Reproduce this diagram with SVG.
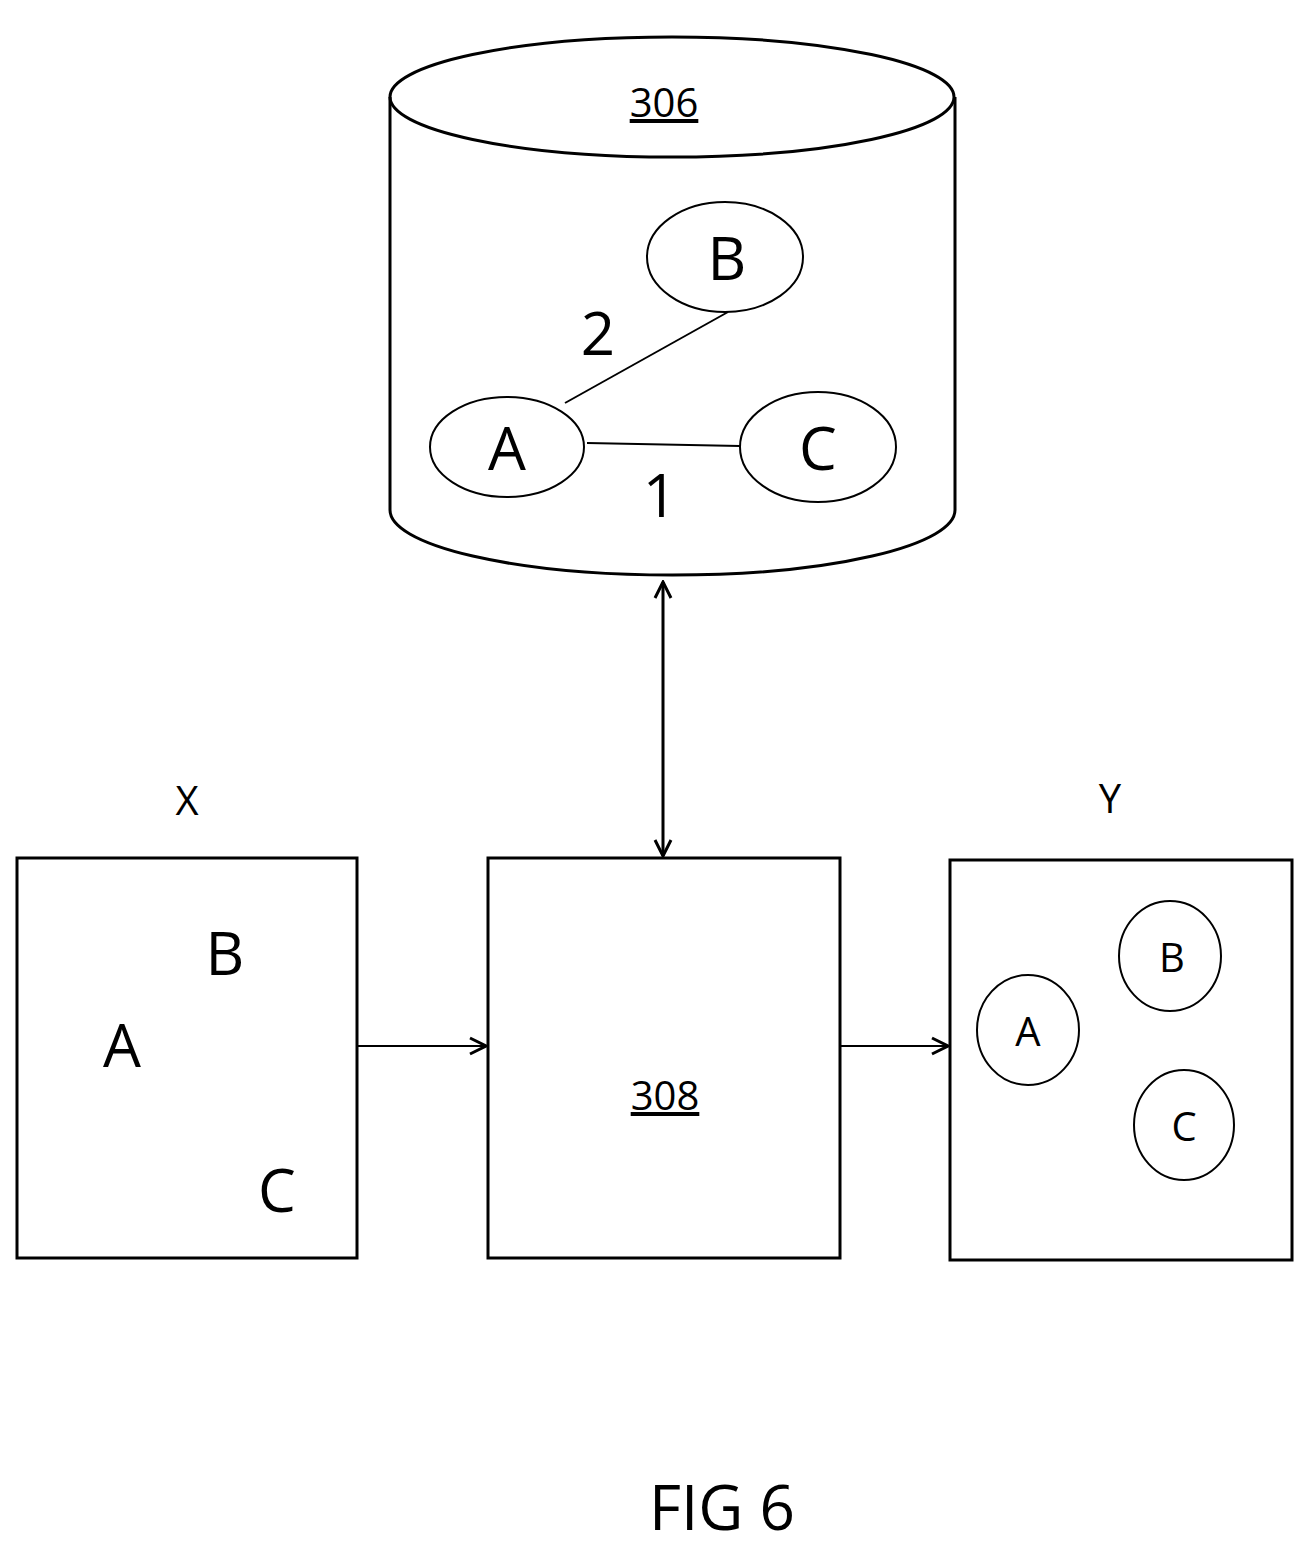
<svg xmlns="http://www.w3.org/2000/svg" width="1315" height="1545" viewBox="0 0 1315 1545">
<style>
.s{fill:none;stroke:#000;stroke-width:3}
.t{stroke:#000;stroke-width:2;fill:none}
text{font-family:"Open Sans","Liberation Sans",sans-serif;fill:#000;text-anchor:middle}
</style>
<defs>
<marker id="ah" viewBox="0 0 20 20" refX="18" refY="10" markerWidth="20" markerHeight="20" markerUnits="userSpaceOnUse" orient="auto-start-reverse">
<path d="M2,2 L18,10 L2,18" fill="none" stroke="#000" stroke-width="3"/>
</marker>
</defs>
<rect width="1315" height="1545" fill="#fff"/>
<g id="db306">
<path class="s" d="M390,97 L390,510 A282,65 0 0 0 955,510 L955,97"/>
<ellipse class="s" cx="672" cy="97" rx="282" ry="60"/>
<text x="664" y="117" font-size="40" text-decoration="underline">306</text>
</g>
<g id="connectors">
<line class="t" x1="565" y1="403" x2="728" y2="312"/>
<line class="t" x1="587" y1="443" x2="740" y2="446"/>
<line class="s" x1="663" y1="582" x2="663" y2="856" marker-start="url(#ah)" marker-end="url(#ah)"/>
<line class="t" x1="357" y1="1046" x2="486" y2="1046" marker-end="url(#ah)"/>
<line class="t" x1="840" y1="1046" x2="948" y2="1046" marker-end="url(#ah)"/>
</g>
<g id="gB"><ellipse class="t" cx="725" cy="257" rx="78" ry="55"/><text x="727" y="280" font-size="60">B</text></g>
<g id="gA"><ellipse class="t" cx="507" cy="447" rx="77" ry="50"/><text x="507" y="470" font-size="60">A</text></g>
<g id="gC"><ellipse class="t" cx="818" cy="447" rx="78" ry="55"/><text x="818" y="470" font-size="60">C</text></g>
<text x="598" y="355" font-size="60">2</text>
<text x="660" y="517" font-size="60">1</text>
<g id="X">
<text x="187" y="815" font-size="40">X</text>
<rect class="s" x="17" y="858" width="340" height="400"/>
<text x="225" y="975" font-size="60">B</text>
<text x="122" y="1067" font-size="60">A</text>
<text x="277" y="1212" font-size="60">C</text>
</g>
<g id="n308">
<rect class="s" x="488" y="858" width="352" height="400"/>
<text x="665" y="1110" font-size="40" text-decoration="underline">308</text>
</g>
<g id="Y">
<text x="1110" y="813" font-size="40">Y</text>
<rect class="s" x="950" y="860" width="342" height="400"/>
<ellipse class="t" cx="1028" cy="1030" rx="51" ry="55"/><text x="1028" y="1046" font-size="40">A</text>
<ellipse class="t" cx="1170" cy="956" rx="51" ry="55"/><text x="1172" y="972" font-size="40">B</text>
<ellipse class="t" cx="1184" cy="1125" rx="50" ry="55"/><text x="1184" y="1141" font-size="40">C</text>
</g>
<text x="722" y="1530" font-size="62">FIG 6</text>
</svg>
